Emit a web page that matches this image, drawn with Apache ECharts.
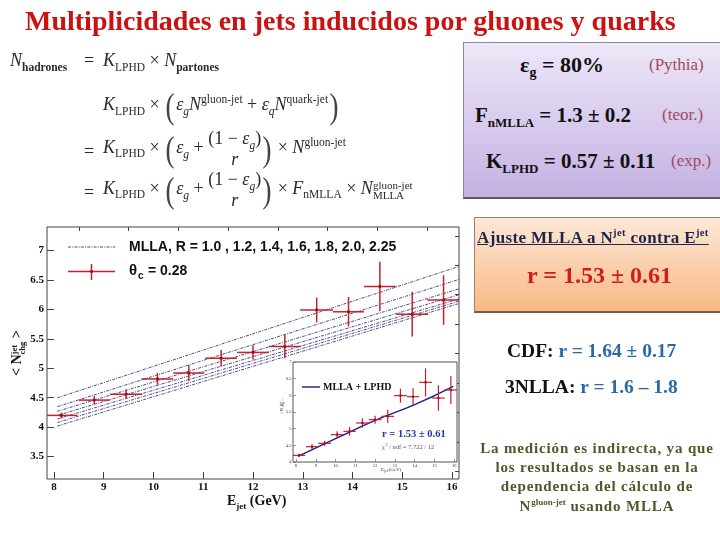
<!DOCTYPE html>
<html><head><meta charset="utf-8">
<script src="https://cdn.jsdelivr.net/npm/echarts@6/dist/echarts.min.js"></script>
<style>
html,body{margin:0;padding:0;background:#fff;}
#wrap{position:relative;width:720px;height:540px;overflow:hidden;font-family:"Liberation Serif",serif;}
#chart{position:absolute;left:0;top:0;width:720px;height:540px;}
.t{position:absolute;white-space:nowrap;line-height:1;}
.eq{font-size:18px;color:#2a2a2a;}
.eq i{font-style:italic;}
.eq sub,.eq sup{font-size:11.5px;line-height:0;}
.bp{font-size:36px;font-weight:100;vertical-align:middle;display:inline-block;transform:scaleX(0.75);color:#444;}
.frac{display:inline-block;vertical-align:middle;text-align:center;line-height:1.15;}
.frac span{display:block;}
.box{position:absolute;box-sizing:border-box;}
</style></head>
<body><div id="wrap">
<div id="chart"></div>

<div class="t" style="left:25px;top:7px;font-size:28px;font-weight:bold;color:#cc1111;">Multiplicidades en jets inducidos por gluones y quarks</div>

<!-- equations -->
<div class="t eq" style="left:10px;top:51px;"><i>N</i><sub><b>hadrones</b></sub></div>
<div class="t eq" style="left:84px;top:51px;">=</div>
<div class="t eq" style="left:103px;top:51px;"><i>K</i><sub>LPHD</sub> &times; <i>N</i><sub><b>partones</b></sub></div>

<div class="t eq" style="left:103px;top:88px;"><i>K</i><sub>LPHD</sub> &times; <span class="bp">(</span><i>ε<sub>g</sub>N</i><sup>gluon-jet</sup> + <i>ε<sub>q</sub>N</i><sup>quark-jet</sup><span class="bp">)</span></div>

<div class="t eq" style="left:84px;top:142px;">=</div>
<div class="t eq" style="left:103px;top:128px;"><i>K</i><sub>LPHD</sub> &times; <span class="bp">(</span><i>ε<sub>g</sub></i> + <span class="frac"><span>(1 &minus; <i>ε<sub>g</sub></i>)</span><span><i>r</i></span></span><span class="bp">)</span> &times; <i>N</i><sup>gluon-jet</sup></div>

<div class="t eq" style="left:84px;top:183px;">=</div>
<div class="t eq" style="left:103px;top:169px;"><i>K</i><sub>LPHD</sub> &times; <span class="bp">(</span><i>ε<sub>g</sub></i> + <span class="frac"><span>(1 &minus; <i>ε<sub>g</sub></i>)</span><span><i>r</i></span></span><span class="bp">)</span> &times; <i>F</i><sub>nMLLA</sub> &times; <i>N</i><span style="display:inline-block;vertical-align:middle;font-size:11px;line-height:10px;">gluon-jet<br>MLLA</span></div>

<!-- purple box -->
<div class="box" style="left:463px;top:42px;width:260px;height:157px;background:linear-gradient(#eee7f8,#c3b1e2);border:1px solid #8a84a0;border-bottom:2px solid #5f5a70;"></div>
<div class="t" style="left:520px;top:54px;font-size:22px;font-weight:bold;color:#111;">ε<sub style="font-size:14px;">g</sub> = 80%</div>
<div class="t" style="left:649px;top:56px;font-size:17px;color:#a04a5e;">(Pythia)</div>
<div class="t" style="left:475px;top:105px;font-size:21px;font-weight:bold;color:#111;">F<sub style="font-size:13px;">nMLLA</sub> = 1.3 ± 0.2</div>
<div class="t" style="left:662px;top:106px;font-size:17px;color:#a04a5e;">(teor.)</div>
<div class="t" style="left:486px;top:151px;font-size:21px;font-weight:bold;color:#111;">K<sub style="font-size:13px;">LPHD</sub> = 0.57 ± 0.11</div>
<div class="t" style="left:671px;top:152px;font-size:17px;color:#a04a5e;">(exp.)</div>

<!-- orange box -->
<div class="box" style="left:474px;top:217px;width:250px;height:96px;background:linear-gradient(#fde8d6,#f7b985);border:1px solid #a08068;border-bottom:2px solid #7a5a44;"></div>
<div class="t" style="left:477px;top:228px;font-size:17px;font-weight:bold;color:#1b2550;text-decoration:underline;letter-spacing:0.35px;">Ajuste MLLA a N<sup style="font-size:10.5px;">jet</sup> contra E<sup style="font-size:10.5px;">jet</sup></div>
<div class="t" style="left:527px;top:263px;font-size:24px;font-weight:bold;color:#d01c1c;">r = 1.53 ± 0.61</div>

<div class="t" style="left:507px;top:341px;font-size:19.5px;font-weight:bold;"><span style="color:#111;">CDF:</span> <span style="color:#2a68a8;">r = 1.64 ± 0.17</span></div>
<div class="t" style="left:505px;top:377px;font-size:19.5px;font-weight:bold;"><span style="color:#111;">3NLLA:</span> <span style="color:#2a68a8;">r = 1.6 – 1.8</span></div>

<div class="t" style="left:474px;top:439px;width:246px;text-align:center;font-size:15px;font-weight:bold;color:#4b5a28;line-height:19.2px;white-space:normal;letter-spacing:0.85px;">La medición es indirecta, ya que<br>los resultados se basan en la<br>dependencia del cálculo de<br>N<sup style="font-size:9px;line-height:0;letter-spacing:0;">gluon-jet</sup> usando MLLA</div>

<!-- axis titles -->
<div class="t" style="left:227px;top:494px;font-size:14px;font-weight:bold;color:#111;">E<sub style="font-size:9px;">jet</sub> (GeV)</div>
<div class="t" style="left:18px;top:353px;transform:translate(-50%,-50%) rotate(-90deg);font-size:14px;font-weight:bold;color:#111;">&lt; N<span style="display:inline-block;vertical-align:middle;font-size:8.5px;line-height:8px;text-align:left;">jet<br>chg</span> &gt;</div>
</div>

<script>
// ----- data -----
const energy    = [8.15, 8.81, 9.45, 10.08, 10.71, 11.36, 12.00, 12.64, 13.28, 13.92, 14.55, 15.20, 15.83];
const energyErr = [0.32, 0.31, 0.32, 0.32, 0.31, 0.32, 0.32, 0.32, 0.33, 0.31, 0.32, 0.32, 0.33];
const nch       = [4.20, 4.46, 4.56, 4.82, 4.92, 5.17, 5.27, 5.37, 5.99, 5.96, 6.39, 5.92, 6.16];
const nchErr    = [0.05, 0.07, 0.08, 0.10, 0.13, 0.14, 0.12, 0.20, 0.21, 0.25, 0.42, 0.38, 0.42];

const mllaLabels = ['R = 1.0', 'R = 1.2', 'R = 1.4', 'R = 1.6', 'R = 1.8', 'R = 2.0', 'R = 2.25'];
const mllaE      = [8.07, 16.14];
const mllaStart  = [4.50, 4.35, 4.27, 4.20, 4.14, 4.08, 4.02];
const mllaEnd    = [6.73, 6.51, 6.35, 6.25, 6.18, 6.14, 6.10];

const fitE = [8.10, 10.0, 12.0, 14.0, 15.95];
const fitN = [4.17, 4.70, 5.25, 5.72, 6.27];

const xTickLabels  = [8, 9, 10, 11, 12, 13, 14, 15, 16];
const xMinorTicks  = [8.5, 9.5, 10.5, 11.5, 12.5, 13.5, 14.5, 15.5];
const yTickLabels  = [3.5, 4, 4.5, 5, 5.5, 6, 6.5, 7];
const yMinorTicks  = [3.25, 3.75, 4.25, 4.75, 5.25, 5.75, 6.25, 6.75, 7.25];

// ----- chart -----
const chart = echarts.init(document.getElementById('chart'), null, {renderer: 'canvas'});
const SERIF = '"Liberation Serif", serif';
const SANS = '"Liberation Sans", sans-serif';
const pts = energy.map((e, i) => [e, nch[i], energyErr[i], nchErr[i]]);

function crossRender(color, lw, dot) {
  return function (params, api) {
    const cs = params.coordSys;
    const x = api.value(0), y = api.value(1), ex = api.value(2), ey = api.value(3);
    const c = api.coord([x, y]);
    const l = api.coord([x - ex, y]);
    const r = api.coord([x + ex, y]);
    const t = api.coord([x, y + ey]);
    const b = api.coord([x, y - ey]);
    const cx = v => Math.max(cs.x, Math.min(cs.x + cs.width, v));
    const cy = v => Math.max(cs.y, Math.min(cs.y + cs.height, v));
    return {
      type: 'group',
      children: [
        {type: 'line', shape: {x1: cx(l[0]), y1: c[1], x2: cx(r[0]), y2: c[1]}, style: {stroke: color, lineWidth: lw}},
        {type: 'line', shape: {x1: c[0], y1: cy(t[1]), x2: c[0], y2: cy(b[1])}, style: {stroke: color, lineWidth: lw}},
        {type: 'rect', shape: {x: c[0] - dot / 2, y: c[1] - dot / 2, width: dot, height: dot}, style: {fill: '#8c1018'}}
      ]
    };
  };
}

const tickLabelMain = {fontFamily: SERIF, fontWeight: 'bold', fontSize: 11, color: '#111'};
const tickLabelInset = {fontFamily: SERIF, fontSize: 4.5, color: '#333'};

const series = [];
mllaStart.forEach((s, i) => {
  series.push({
    name: mllaLabels[i], type: 'line', xAxisIndex: 0, yAxisIndex: 0,
    data: [[mllaE[0], s], [mllaE[1], mllaEnd[i]]],
    symbol: 'none', silent: true,
    lineStyle: {color: '#34347e', width: 0.9, type: [3, 1.2, 1, 1.2]}
  });
});
series.push({
  name: 'θc = 0.28', type: 'custom', xAxisIndex: 0, yAxisIndex: 0,
  renderItem: crossRender('#c8202a', 1.5, 2.6), data: pts, encode: {x: 0, y: 1}, z: 5
});
series.push({
  name: 'MLLA + LPHD', type: 'line', xAxisIndex: 2, yAxisIndex: 2,
  data: fitE.map((e, i) => [e, fitN[i]]), smooth: true, symbol: 'none',
  lineStyle: {color: '#1a1a8c', width: 1.4}, z: 12
});
series.push({
  name: 'inset data', type: 'custom', xAxisIndex: 2, yAxisIndex: 2,
  renderItem: crossRender('#c8202a', 1.2, 2), data: pts, encode: {x: 0, y: 1}, z: 13
});

const option = {
  animation: false,
  backgroundColor: 'transparent',
  grid: [
    {left: 47, top: 227, width: 412, height: 252, show: true, borderColor: '#444', borderWidth: 1, backgroundColor: 'transparent'},
    {left: 293, top: 362, width: 164, height: 100, show: true, borderColor: '#555', borderWidth: 1, backgroundColor: '#fff', z: 10}
  ],
  xAxis: [
    {gridIndex: 0, type: 'value', min: 7.86, max: 16.14,
     axisLine: {show: false}, splitLine: {show: false},
     axisTick: {inside: true, length: 7, customValues: xTickLabels, lineStyle: {color: '#444'}},
     axisLabel: {customValues: xTickLabels, margin: 3, ...tickLabelMain}},
    {gridIndex: 0, type: 'value', min: 7.86, max: 16.14,
     axisLine: {show: false}, splitLine: {show: false},
     axisTick: {inside: true, length: 4, customValues: xMinorTicks, lineStyle: {color: '#444'}},
     axisLabel: {show: false}},
    {gridIndex: 1, type: 'value', min: 7.85, max: 16.14, z: 11,
     axisLine: {show: false}, splitLine: {show: false},
     axisTick: {inside: true, length: 3, customValues: xTickLabels, lineStyle: {color: '#555', width: 0.6}},
     axisLabel: {customValues: xTickLabels, margin: 1.5, ...tickLabelInset}}
  ],
  yAxis: [
    {gridIndex: 0, type: 'value', min: 3.12, max: 7.4,
     axisLine: {show: false}, splitLine: {show: false},
     axisTick: {inside: true, length: 7, customValues: yTickLabels, lineStyle: {color: '#444'}},
     axisLabel: {customValues: yTickLabels, margin: 3, ...tickLabelMain}},
    {gridIndex: 0, type: 'value', min: 3.12, max: 7.4,
     axisLine: {show: false}, splitLine: {show: false},
     axisTick: {inside: true, length: 4, customValues: yMinorTicks, lineStyle: {color: '#444'}},
     axisLabel: {show: false}},
    {gridIndex: 1, type: 'value', min: 4, max: 7, interval: 0.5, z: 11,
     axisLine: {show: false}, splitLine: {show: false},
     axisTick: {inside: true, length: 3, lineStyle: {color: '#555', width: 0.6}},
     axisLabel: {margin: 1.5, ...tickLabelInset}}
  ],
  graphic: [
    // main legend
    {type: 'line', z: 20, shape: {x1: 68, y1: 247, x2: 115, y2: 247}, style: {stroke: '#34347e', lineWidth: 0.9, lineDash: [3, 1.2, 1, 1.2]}},
    {type: 'text', z: 20, x: 129, y: 247, style: {text: 'MLLA, R = 1.0 , 1.2, 1.4, 1.6, 1.8, 2.0, 2.25', font: 'bold 14px ' + SANS, fill: '#111', verticalAlign: 'middle'}},
    {type: 'line', z: 20, shape: {x1: 68, y1: 271.5, x2: 115, y2: 271.5}, style: {stroke: '#c8202a', lineWidth: 1.5}},
    {type: 'line', z: 20, shape: {x1: 91.5, y1: 264, x2: 91.5, y2: 280}, style: {stroke: '#c8202a', lineWidth: 1.5}},
    {type: 'rect', z: 20, shape: {x: 90.2, y: 270.2, width: 2.6, height: 2.6}, style: {fill: '#8c1018'}},
    {type: 'text', z: 20, x: 129, y: 271, style: {text: 'θ', font: 'bold 15px ' + SANS, fill: '#111', verticalAlign: 'middle'}},
    {type: 'text', z: 20, x: 138, y: 276, style: {text: 'c', font: 'bold 10px ' + SANS, fill: '#111', verticalAlign: 'middle'}},
    {type: 'text', z: 20, x: 148, y: 271, style: {text: '= 0.28', font: 'bold 14px ' + SANS, fill: '#111', verticalAlign: 'middle'}},
    // inset legend and labels
    {type: 'line', z: 20, shape: {x1: 302, y1: 387, x2: 320, y2: 387}, style: {stroke: '#1a1a8c', lineWidth: 1.4}},
    {type: 'text', z: 20, x: 323, y: 387, style: {text: 'MLLA + LPHD', font: 'bold 10px ' + SERIF, fill: '#111', verticalAlign: 'middle'}},
    {type: 'text', z: 20, x: 382, y: 434, style: {text: 'r = 1.53 ± 0.61', font: 'bold 10.5px ' + SERIF, fill: '#2233aa', verticalAlign: 'middle'}},
    {type: 'text', z: 20, x: 382, y: 447, style: {text: 'χ', font: '6.5px ' + SERIF, fill: '#555', verticalAlign: 'middle'}},
    {type: 'text', z: 20, x: 385.5, y: 445, style: {text: '2', font: '4.5px ' + SERIF, fill: '#555', verticalAlign: 'middle'}},
    {type: 'text', z: 20, x: 389, y: 447, style: {text: '/ ndf = 7.722 / 12', font: '6.5px ' + SERIF, fill: '#555', verticalAlign: 'middle'}},
    {type: 'text', z: 20, x: 381, y: 470, style: {text: 'E', font: '5px ' + SERIF, fill: '#333', verticalAlign: 'middle'}},
    {type: 'text', z: 20, x: 384.3, y: 471.2, style: {text: 'jet', font: '3.5px ' + SERIF, fill: '#333', verticalAlign: 'middle'}},
    {type: 'text', z: 20, x: 388.5, y: 470, style: {text: '(GeV)', font: '5px ' + SERIF, fill: '#333', verticalAlign: 'middle'}},
    {type: 'text', z: 20, x: 282, y: 411, rotation: Math.PI / 2, style: {text: '<N', font: '5px ' + SERIF, fill: '#333', align: 'center', verticalAlign: 'middle'}},
    {type: 'text', z: 20, x: 281, y: 403, rotation: Math.PI / 2, style: {text: 'jet  ', font: '3.5px ' + SERIF, fill: '#333', align: 'center', verticalAlign: 'middle'}},
    {type: 'text', z: 20, x: 283.5, y: 403, rotation: Math.PI / 2, style: {text: 'chg >', font: '3.5px ' + SERIF, fill: '#333', align: 'center', verticalAlign: 'middle'}}
  ],
  series: series
};
chart.setOption(option);
</script>
</body></html>
